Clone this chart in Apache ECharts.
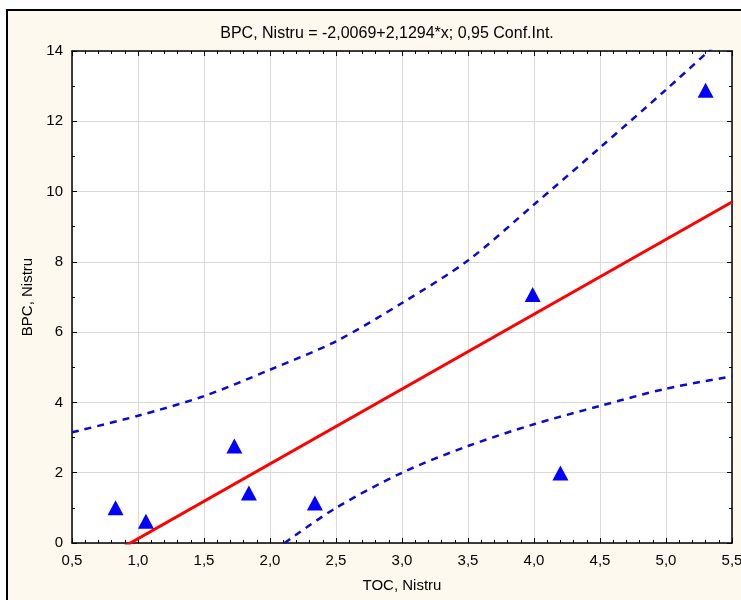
<!DOCTYPE html>
<html>
<head>
<meta charset="utf-8">
<script src="https://cdn.jsdelivr.net/npm/echarts@6/dist/echarts.min.js"></script>
<style>
  html, body { margin: 0; padding: 0; background: #ffffff; }
  #chart { width: 741px; height: 600px; }
</style>
</head>
<body>
<div id="chart"></div>
<script>
// Observed samples: TOC vs BPC at the Nistru sites
const tocValues = [0.83, 1.06, 1.73, 1.84, 2.34, 3.99, 4.20, 5.30];
const bpcValues = [1.00, 0.62, 2.76, 1.42, 1.14, 7.07, 1.99, 12.88];

// Fitted line coefficients (as given in the title)
const intercept = -2.0069;
const slope = 2.1294;

// 95% confidence band, upper and lower limits
const upperX = [0.5, 1.0, 1.5, 2.0, 2.5, 3.0, 3.5, 4.0, 4.5, 5.0, 5.5];
const upperY = [3.15, 3.62, 4.18, 4.93, 5.74, 6.83, 8.04, 9.63, 11.25, 12.90, 14.60];
const lowerX = [2.11, 2.5, 3.0, 3.5, 4.0, 4.5, 5.0, 5.5];
const lowerY = [0.00, 1.00, 2.00, 2.76, 3.38, 3.90, 4.39, 4.74];

// Axis settings
const xMin = 0.5, xMax = 5.5, xStep = 0.5;
const yMin = 0, yMax = 14, yStep = 2;

const titleText = 'BPC, Nistru = -2,0069+2,1294*x; 0,95 Conf.Int.';
const xName = 'TOC, Nistru';
const yName = 'BPC, Nistru';

const font = 'Arial, "Liberation Sans", sans-serif';
const pair = (xs, ys) => xs.map((x, i) => [x, ys[i]]);
const fitLine = [xMin, xMax].map(x => [x, intercept + slope * x]);

const chart = echarts.init(document.getElementById('chart'), null, { renderer: 'canvas' });

const baseX = {
  type: 'value', min: xMin, max: xMax, interval: xStep,
  axisLine: { show: true, onZero: false, lineStyle: { color: '#000', width: 1.5 } },
  axisTick: { show: true, inside: true, length: 5, lineStyle: { color: '#000' } },
  minorTick: { show: true, splitNumber: 5, length: 3, lineStyle: { color: '#000' } },
  splitLine: { show: false }
};
const baseY = {
  type: 'value', min: yMin, max: yMax, interval: yStep,
  axisLine: { show: true, onZero: false, lineStyle: { color: '#000', width: 1.5 } },
  axisTick: { show: true, inside: true, length: 5, lineStyle: { color: '#000' } },
  minorTick: { show: true, splitNumber: 2, length: 3, lineStyle: { color: '#000' } },
  splitLine: { show: false }
};

chart.setOption({
  animation: false,
  backgroundColor: '#ffffff',
  graphic: [{
    type: 'rect', z: -10, silent: true,
    shape: { x: 7, y: 10, width: 780, height: 620 },
    style: { fill: '#fdf9ef', stroke: '#000', lineWidth: 2 }
  }, {
    type: 'rect', z: -5, silent: true,
    shape: { x: 72, y: 51, width: 660, height: 492 },
    style: { fill: '#ffffff' }
  }],
  title: {
    text: titleText,
    left: 382, top: 21, textAlign: 'center',
    textStyle: { fontFamily: font, fontSize: 16, fontWeight: 'normal', color: '#000' }
  },
  grid: { left: 72, right: 9, top: 51, bottom: 57, containLabel: false, outerBoundsMode: 'none' },
  xAxis: [
    Object.assign({}, baseX, {
      position: 'bottom',
      name: xName, nameLocation: 'middle', nameGap: 35,
      nameTextStyle: { fontFamily: font, fontSize: 15, color: '#000' },
      axisLabel: {
        show: true, margin: 10, color: '#000', fontFamily: font, fontSize: 15,
        formatter: v => v.toFixed(1).replace('.', ',')
      },
      splitLine: { show: true, lineStyle: { color: '#d9d9d9', width: 1 } }
    }),
    Object.assign({}, baseX, { position: 'top', axisLabel: { show: false } })
  ],
  yAxis: [
    Object.assign({}, baseY, {
      position: 'left',
      name: yName, nameLocation: 'middle', nameGap: 27,
      nameTextStyle: { fontFamily: font, fontSize: 15, color: '#000' },
      axisLabel: {
        show: true, margin: 9, color: '#000', fontFamily: font, fontSize: 15,
        formatter: v => String(v)
      },
      splitLine: { show: true, lineStyle: { color: '#d9d9d9', width: 1 } }
    }),
    Object.assign({}, baseY, { position: 'right', axisLabel: { show: false } })
  ],
  series: [
    {
      type: 'line', name: 'upper', data: pair(upperX, upperY),
      smooth: 0.3, showSymbol: false, clip: true,
      lineStyle: { color: '#0a0ad2', width: 2.5, type: [7, 6] }, z: 3
    },
    {
      type: 'line', name: 'lower', data: pair(lowerX, lowerY),
      smooth: 0.3, showSymbol: false, clip: true,
      lineStyle: { color: '#0a0ad2', width: 2.5, type: [7, 6] }, z: 3
    },
    {
      type: 'line', name: 'fit', data: fitLine,
      showSymbol: false, clip: true,
      lineStyle: { color: '#ff0000', width: 3 }, z: 4
    },
    {
      type: 'scatter', name: 'samples', data: pair(tocValues, bpcValues),
      symbol: 'triangle', symbolSize: [16, 15],
      itemStyle: { color: '#0000ff', opacity: 1 }, z: 5
    }
  ]
});
</script>
</body>
</html>
